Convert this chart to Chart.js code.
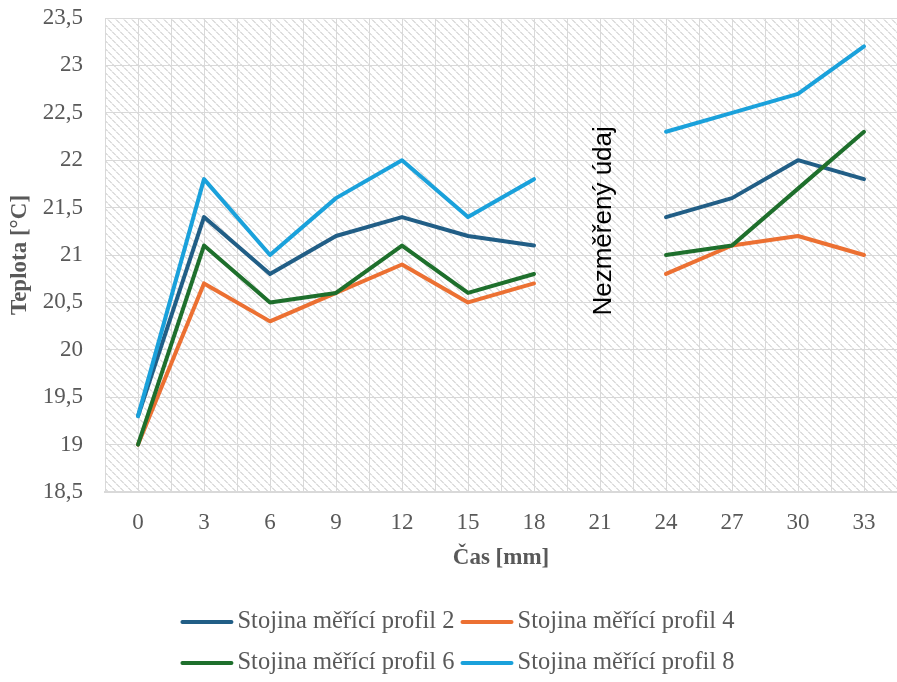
<!DOCTYPE html>
<html><head><meta charset="utf-8">
<script src="https://cdn.jsdelivr.net/npm/chart.js@4.4.1/dist/chart.umd.min.js"></script>
<style>html,body{margin:0;padding:0;background:#fff}</style>
</head><body>
<canvas id="c" width="897" height="682"></canvas>
<script>
const categories = ['0','3','6','9','12','15','18','21','24','27','30','33'];
const profil2 = [19.3, 21.4, 20.8, 21.2, 21.4, 21.2, 21.1, null, 21.4, 21.6, 22.0, 21.8];
const profil4 = [19.0, 20.7, 20.3, 20.6, 20.9, 20.5, 20.7, null, 20.8, 21.1, 21.2, 21.0];
const profil6 = [19.0, 21.1, 20.5, 20.6, 21.1, 20.6, 20.8, null, 21.0, 21.1, 21.7, 22.3];
const profil8 = [19.3, 21.8, 21.0, 21.6, 22.0, 21.4, 21.8, null, 22.3, 22.5, 22.7, 23.2];
const seriesNames = ['Stojina měřící profil 2','Stojina měřící profil 4','Stojina měřící profil 6','Stojina měřící profil 8'];
const seriesColors = ['#215E86','#EC7032','#1E6F2C','#1AA1DB'];
const yMin = 18.5, yMax = 23.5, yStep = 0.5;
const annotationText = 'Nezměřený údaj';
const annotationCategory = '21';
const annotationValue = 21.36;

const TXT = '#595959';
const GRID = '#d9d9d9';
const SERIF = '"Liberation Serif", "Times New Roman", serif';

// hatch pattern
const pc = document.createElement('canvas'); pc.width = 8; pc.height = 8;
const pctx = pc.getContext('2d');
const img = pctx.createImageData(8, 8);
for (let i = 0; i < 8; i++) {
  for (let k = 0; k < 8; k++) {
    const idx = (i * 8 + k) * 4;
    img.data[idx] = 255; img.data[idx+1] = 255; img.data[idx+2] = 255; img.data[idx+3] = 255;
  }
  for (const dx of [0, 1]) {
    const x = (i + dx) % 8;
    const idx = (i * 8 + x) * 4;
    const c = (i % 4 === 3) ? 240 : 222;
    img.data[idx] = c; img.data[idx+1] = c; img.data[idx+2] = c;
  }
}
pctx.putImageData(img, 0, 0);

const bgPlugin = {
  id: 'bg',
  beforeDraw(chart) {
    const {ctx, chartArea: a} = chart;
    ctx.save();
    ctx.fillStyle = ctx.createPattern(pc, 'repeat');
    ctx.fillRect(a.left, a.top, a.right - a.left, a.bottom - a.top);
    ctx.restore();
  }
};

const annoPlugin = {
  id: 'anno',
  afterDatasetsDraw(chart) {
    const {ctx, scales} = chart;
    const x = scales.x.getPixelForValue(categories.indexOf(annotationCategory));
    const y = scales.y.getPixelForValue(annotationValue);
    ctx.save();
    ctx.translate(x + 4, y);
    ctx.rotate(-Math.PI / 2);
    ctx.font = '26px "Liberation Sans", Arial, sans-serif';
    ctx.fillStyle = '#000';
    ctx.textAlign = 'center';
    ctx.textBaseline = 'middle';
    ctx.fillText(annotationText, 0, 0);
    ctx.restore();
  }
};

const legendPlugin = {
  id: 'customLegend',
  afterDraw(chart) {
    const ctx = chart.ctx;
    const ds = chart.data.datasets;
    ctx.save();
    ctx.font = '24.5px ' + SERIF;
    const lineW = 53, gap = 4, colGap = 6;
    let maxT = 0;
    ds.forEach(d => { maxT = Math.max(maxT, ctx.measureText(d.label).width); });
    const colW = lineW + gap + maxT + colGap;
    const total = colW * 2 - colGap;
    const x0 = (chart.width - total) / 2 + 9;
    const rows = [622, 663];
    ds.forEach((d, i) => {
      const col = i % 2, row = Math.floor(i / 2);
      const x = x0 + col * colW;
      const y = rows[row];
      ctx.strokeStyle = d.borderColor;
      ctx.lineWidth = 4;
      ctx.lineCap = 'round';
      ctx.beginPath(); ctx.moveTo(x + 2, y); ctx.lineTo(x + lineW - 2, y); ctx.stroke();
      ctx.fillStyle = TXT;
      ctx.textAlign = 'left';
      ctx.textBaseline = 'middle';
      ctx.fillText(d.label, x + lineW + gap, y);
    });
    ctx.restore();
  }
};

const allSeries = [profil2, profil4, profil6, profil8];
const datasets = allSeries.map((vals, i) => ({
  label: seriesNames[i],
  data: vals,
  borderColor: seriesColors[i],
  backgroundColor: seriesColors[i],
  borderWidth: 4,
  pointRadius: 0,
  tension: 0,
  spanGaps: false,
  order: 3 - i,
  borderCapStyle: 'round',
  borderJoinStyle: 'round'
}));

new Chart(document.getElementById('c'), {
  type: 'line',
  data: { labels: categories, datasets },
  options: {
    responsive: false,
    devicePixelRatio: 1,
    animation: false,
    layout: { padding: { top: 18, right: -6, bottom: 110, left: 0 } },
    plugins: { legend: { display: false }, tooltip: { enabled: false } },
    scales: {
      x: {
        type: 'category',
        offset: true,
        grid: { color: GRID, offset: false, drawTicks: false, lineWidth: 1 },
        border: { color: GRID, width: 2 },
        ticks: { color: TXT, font: { family: SERIF, size: 23 }, padding: 17 },
        title: { display: true, text: 'Čas [mm]', color: TXT, font: { family: SERIF, size: 23, weight: 'bold' }, padding: { top: 4, bottom: 0 } },
        afterFit(s) { s.height = 80; }
      },
      x2: {
        type: 'category',
        labels: categories,
        position: 'bottom',
        offset: true,
        grid: { color: GRID, offset: true, drawTicks: false, lineWidth: 1 },
        border: { display: false },
        ticks: { display: false },
        afterFit(s) { s.height = 0; }
      },
      y: {
        min: yMin, max: yMax,
        grid: { color: GRID, drawTicks: false, lineWidth: 1 },
        border: { color: GRID, width: 1 },
        ticks: {
          stepSize: yStep, color: TXT, padding: 22,
          font: { family: SERIF, size: 23 },
          callback: v => String(v).replace('.', ',')
        },
        title: { display: true, text: 'Teplota [°C]', color: TXT, font: { family: SERIF, size: 23, weight: 'bold' }, padding: { top: 6, bottom: 0 } },
        afterFit(s) { s.width = 105; s.paddingTop = 0; s.paddingBottom = 0; }
      }
    }
  },
  plugins: [bgPlugin, annoPlugin, legendPlugin]
});
</script>
</body></html>
